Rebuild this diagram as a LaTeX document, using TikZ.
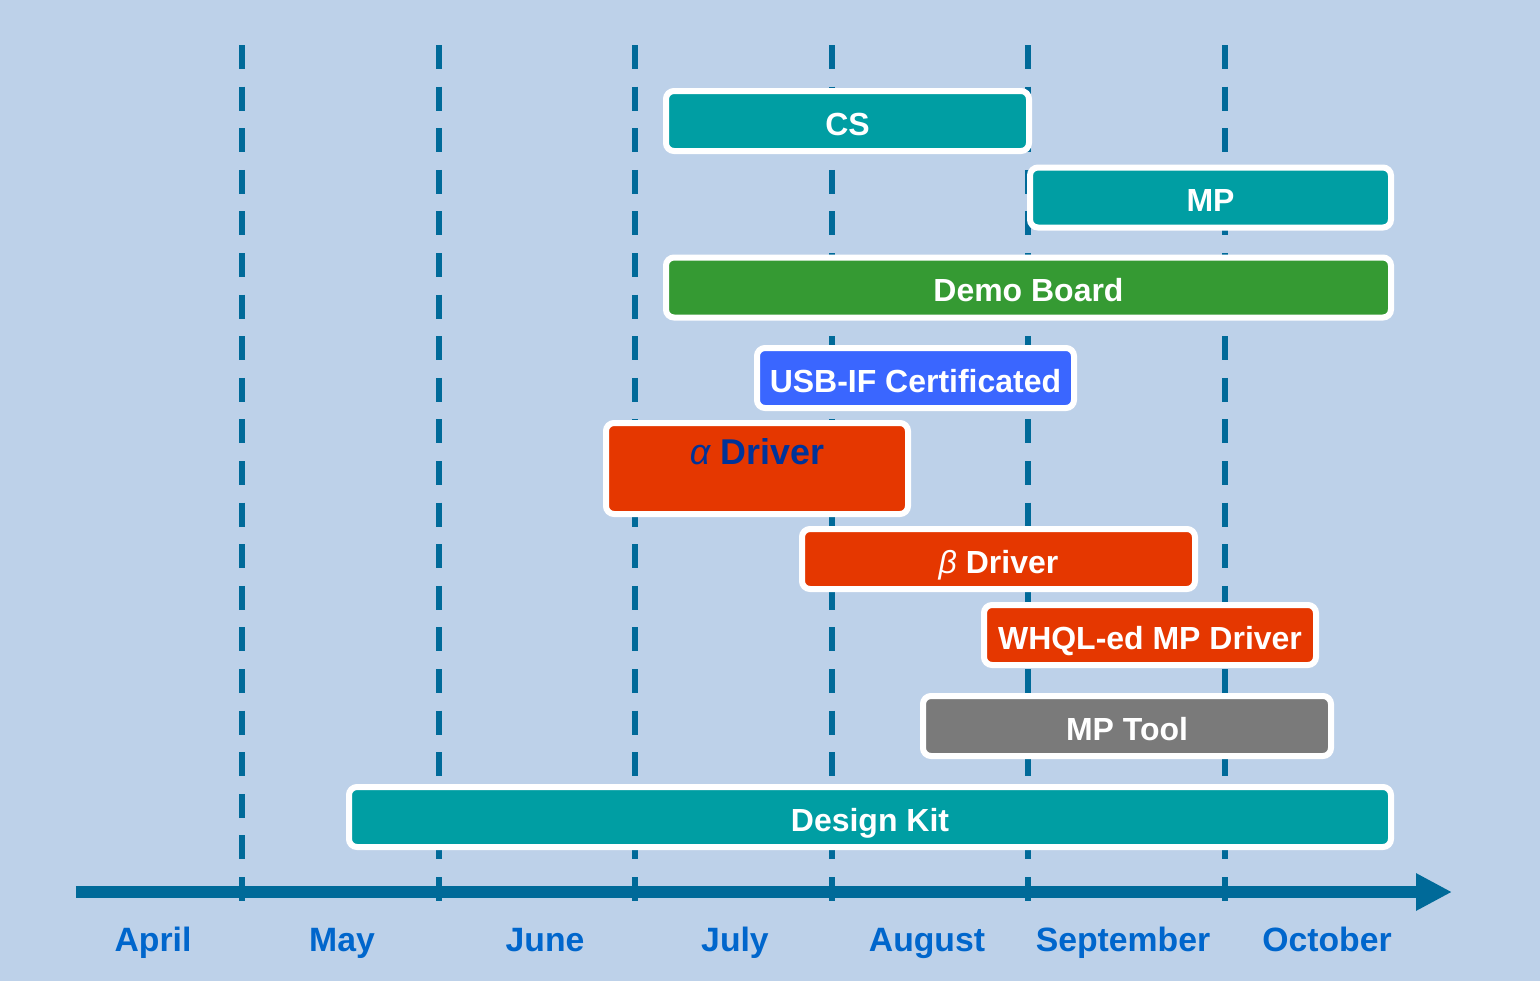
\documentclass[tikz,border=0pt]{standalone}
\usepackage{fontspec}
\setmainfont{Liberation Sans}
\usetikzlibrary{arrows.meta}

\definecolor{bgblue}{RGB}{189,209,233}
\definecolor{lineblue}{RGB}{0,106,153}
\definecolor{monthblue}{RGB}{0,102,204}
\definecolor{barteal}{RGB}{0,158,163}
\definecolor{bargreen}{RGB}{53,154,51}
\definecolor{barblue}{RGB}{58,102,255}
\definecolor{barred}{RGB}{229,55,0}
\definecolor{bargray}{RGB}{122,122,122}
\definecolor{alphablue}{RGB}{0,51,153}

\tikzset{
	taskbar/.style={draw=white, line width=0.06cm, rounded corners=0.08cm,
		inner sep=0pt, text=white, text height=0.8em, text depth=0pt,
		font=\bfseries\fontsize{9.1}{11}\selectfont},
	monthline/.style={lineblue, line width=0.06cm,
		dash pattern=on 0.24cm off 0.176cm},
	monthlabel/.style={anchor=base, text=monthblue,
		font=\bfseries\fontsize{9.6}{11}\selectfont}
}

\begin{document}
\begin{tikzpicture}[x=1cm, y=-1cm]
	\fill
		[bgblue] (0,0) rectangle (15.4,9.81);

	\foreach \x in {2.42,4.386,6.352,8.318,10.284,12.25}
		\draw
			[monthline] (\x,0.45) -- (\x,9.07);

	\coordinate (axisstart) at (0.76,8.92);
	\coordinate (axisend) at (14.52,8.92);
	\draw
		[lineblue, line width=0.12cm, -{Triangle[length=0.36cm, width=0.35cm]}]
		(axisstart) -- (axisend);

	\foreach \m/\x [count=\i] in {April/1.53,May/3.42,June/5.45,July/7.35,August/9.27,September/11.23,October/13.27}
		\node (month\i) at (\x, 9.51) [monthlabel] {\m};

	\node (cs) at (8.475, 1.21)
		[taskbar, fill=barteal, minimum width=3.63cm, minimum height=0.6cm] {CS};
	\node (mp) at (12.105, 1.975)
		[taskbar, fill=barteal, minimum width=3.61cm, minimum height=0.6cm] {MP};
	\node (demoboard) at (10.285, 2.875)
		[taskbar, fill=bargreen, minimum width=7.25cm, minimum height=0.6cm] {Demo Board};
	\node (usbif) at (9.155, 3.78)
		[taskbar, fill=barblue, minimum width=3.17cm, minimum height=0.6cm] {USB-IF Certificated};
	\node (alphadrv) at (7.57, 4.685)
		[taskbar, fill=barred, minimum width=3.02cm, minimum height=0.91cm] {};
	\node (alphatxt) at (7.57, 4.64)
		[anchor=base, text=alphablue, font=\bfseries\fontsize{10.2}{12}\selectfont]
		{{\mdseries\itshape α} Driver};
	\node (betadrv) at (9.985, 5.59)
		[taskbar, fill=barred, minimum width=3.93cm, minimum height=0.6cm] {{\mdseries\itshape β} Driver};
	\node (whql) at (11.5, 6.35)
		[taskbar, fill=barred, minimum width=3.32cm, minimum height=0.6cm] {WHQL-ed MP Driver};
	\node (mptool) at (11.27, 7.26)
		[taskbar, fill=bargray, minimum width=4.08cm, minimum height=0.6cm] {MP Tool};
	\node (designkit) at (8.7, 8.17)
		[taskbar, fill=barteal, minimum width=10.42cm, minimum height=0.6cm] {Design Kit};
\end{tikzpicture}
\end{document}
